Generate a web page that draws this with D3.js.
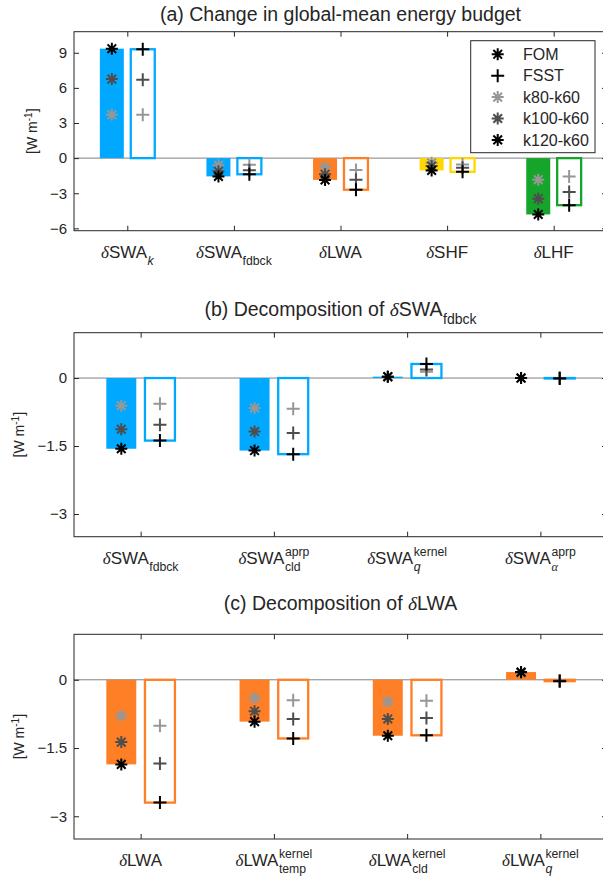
<!DOCTYPE html>
<html>
<head>
<meta charset="utf-8">
<script src="https://cdn.jsdelivr.net/npm/d3@7"></script>
<style>
  body { margin: 0; background: #fff; }
  text { font-family: "Liberation Sans", Arial, Helvetica, sans-serif; fill: #262626; }
</style>
</head>
<body>
<script>
// ---- data: (a) change in global-mean energy budget [W m-1]
var labelsA = [['SWA', 'k', ''], ['SWA', 'fdbck', ''], ['LWA', '', ''], ['SHF', '', ''], ['LHF', '', '']]
var fomA80 = [3.7, -0.61, -0.79, -0.40, -1.84]
var fomA100 = [6.75, -1.13, -1.37, -0.68, -3.46]
var fomA120 = [9.35, -1.56, -1.86, -1.05, -4.81]
var fsstA80 = [3.7, -0.57, -1.01, -0.54, -1.56]
var fsstA100 = [6.7, -1.03, -1.84, -0.82, -2.89]
var fsstA120 = [9.3, -1.38, -2.70, -1.17, -4.02]
var ticksA = [-6, -3, 0, 3, 6, 9]

// ---- (b) decomposition of dSWA_fdbck
var labelsB = [['SWA', 'fdbck', ''], ['SWA', 'cld', 'aprp'], ['SWA', 'q', 'kernel'], ['SWA', 'α', 'aprp']]
var fomB80 = [-0.61, -0.66, 0.03, 0]
var fomB100 = [-1.13, -1.18, 0.03, 0]
var fomB120 = [-1.56, -1.60, 0.03, 0]
var fsstB80 = [-0.57, -0.68, 0.14, 0]
var fsstB100 = [-1.03, -1.21, 0.19, 0]
var fsstB120 = [-1.38, -1.68, 0.31, -0.01]

// ---- (c) decomposition of dLWA
var labelsC = [['LWA', '', ''], ['LWA', 'temp', 'kernel'], ['LWA', 'cld', 'kernel'], ['LWA', 'q', 'kernel']]
var fomC80 = [-0.79, -0.40, -0.48, 0.15]
var fomC100 = [-1.37, -0.69, -0.86, 0.16]
var fomC120 = [-1.86, -0.92, -1.23, 0.17]
var fsstC80 = [-1.01, -0.45, -0.46, -0.02]
var fsstC100 = [-1.84, -0.86, -0.84, -0.02]
var fsstC120 = [-2.70, -1.29, -1.22, -0.03]
var ticksBC = [-3, -1.5, 0]

var legendNames = ['FOM', 'FSST', 'k80-k60', 'k100-k60', 'k120-k60']

var blue = '#00a9ff'
var orange = '#ff7f27'
var yellow = '#ffd800'
var green = '#14a52a'
var grey80 = '#979797'
var grey100 = '#4d4d4d'
var grey120 = '#000000'

var W = 603
var H = 883
var svg = d3.select('body').append('svg')
  .attr('width', W)
  .attr('height', H)

var left = 74
var right = 607

var panels = [
  {
    title: ['(a) Change in global-mean energy budget', '', '', ''],
    titleY: 21,
    labels: labelsA,
    fom: [fomA80, fomA100, fomA120],
    fsst: [fsstA80, fsstA100, fsstA120],
    colors: [blue, blue, orange, yellow, green],
    yDomain: [-6.2, 10.8],
    ticks: ticksA,
    top: 31.7,
    bottom: 230.7,
    ylabX: 37,
    legend: true
  },
  {
    title: ['(b) Decomposition of ', 'SWA', 'fdbck', ''],
    titleY: 316,
    labels: labelsB,
    fom: [fomB80, fomB100, fomB120],
    fsst: [fsstB80, fsstB100, fsstB120],
    colors: [blue, blue, blue, blue],
    yDomain: [-3.5, 1],
    ticks: ticksBC,
    top: 332.7,
    bottom: 536.7,
    ylabX: 24
  },
  {
    title: ['(c) Decomposition of ', 'LWA', '', ''],
    titleY: 610,
    labels: labelsC,
    fom: [fomC80, fomC100, fomC120],
    fsst: [fsstC80, fsstC100, fsstC120],
    colors: [orange, orange, orange, orange],
    yDomain: [-3.5, 1],
    ticks: ticksBC,
    top: 634.3,
    bottom: 839,
    ylabX: 24
  }
]

// asterisk (MATLAB '*') and plus marker paths
function asterisk (r) {
  var a = r * 0.72
  return 'M' + (-r) + ',0H' + r + 'M0,' + (-r) + 'V' + r +
    'M' + (-a) + ',' + (-a) + 'L' + a + ',' + a +
    'M' + (-a) + ',' + a + 'L' + a + ',' + (-a)
}
function plus (r) {
  return 'M' + (-r) + ',0H' + r + 'M0,' + (-r) + 'V' + r
}

// text like  pre + delta + base_sub^sup , centred at x
function richText (sel, x, y, pre, base, sub, sup, fs) {
  var g = sel.append('g')
  var t = g.append('text').style('font-size', fs + 'px')
  if (pre) t.append('tspan').text(pre)
  if (base) {
    t.append('tspan')
      .style('font-family', '"Liberation Serif", "DejaVu Serif", serif')
      .style('font-style', 'italic')
      .text('δ')
    t.append('tspan').text(base)
  }
  var w = t.node().getComputedTextLength()
  var extra = 0
  var sfs = fs * 0.72
  if (sub) {
    var s = g.append('text')
      .attr('x', w + 0.5)
      .attr('y', fs * 0.4)
      .style('font-size', sfs + 'px')
      .text(sub)
    if (sub.length === 1) s.style('font-style', 'italic')
    if (sub === 'α') s.style('font-family', '"Liberation Serif", serif')
    extra = Math.max(extra, s.node().getComputedTextLength() + 0.5)
  }
  if (sup) {
    var p = g.append('text')
      .attr('x', w + 0.5)
      .attr('y', -fs * 0.45)
      .style('font-size', sfs + 'px')
      .text(sup)
    extra = Math.max(extra, p.node().getComputedTextLength() + 0.5)
  }
  g.attr('transform', 'translate(' + (x - (w + extra) / 2) + ',' + y + ')')
  return g
}

panels.forEach(function (P) {
  var n = P.labels.length
  var x = d3.scaleLinear().domain([0.5, n + 0.5]).range([left, right])
  var y = d3.scaleLinear().domain(P.yDomain).range([P.bottom, P.top])
  var unit = x(2) - x(1)
  var bw = 0.225 * unit
  var off = 0.145 * unit
  var g = svg.append('g')

  // zero line
  g.append('line')
    .attr('x1', left).attr('x2', right)
    .attr('y1', y(0)).attr('y2', y(0))
    .attr('stroke', '#808080').attr('stroke-width', 1)

  // bars: FOM filled, FSST outlined (height = k120-k60)
  var idx = d3.range(n)
  g.selectAll('rect.fom').data(idx).enter().append('rect')
    .attr('class', 'fom')
    .attr('x', function (i) { return x(i + 1) - off - bw / 2 })
    .attr('width', bw)
    .attr('y', function (i) { return y(Math.max(0, P.fom[2][i])) })
    .attr('height', function (i) { return Math.abs(y(P.fom[2][i]) - y(0)) })
    .attr('fill', function (i) { return P.colors[i] })
  g.selectAll('rect.fsst').data(idx).enter().append('rect')
    .attr('class', 'fsst')
    .attr('x', function (i) { return x(i + 1) + off - bw / 2 })
    .attr('width', bw)
    .attr('y', function (i) { return y(Math.max(0, P.fsst[2][i])) })
    .attr('height', function (i) { return Math.abs(y(P.fsst[2][i]) - y(0)) })
    .attr('fill', 'none')
    .attr('stroke', function (i) { return P.colors[i] })
    .attr('stroke-width', 2.3)

  // markers
  var greys = [grey80, grey100, grey120]
  P.fom.forEach(function (arr, k) {
    g.selectAll(null).data(arr).enter().append('path')
      .attr('d', asterisk(6))
      .attr('transform', function (v, i) { return 'translate(' + (x(i + 1) - off) + ',' + y(v) + ')' })
      .attr('stroke', greys[k]).attr('stroke-width', 2).attr('fill', 'none')
  })
  P.fsst.forEach(function (arr, k) {
    g.selectAll(null).data(arr).enter().append('path')
      .attr('d', plus(6.5))
      .attr('transform', function (v, i) { return 'translate(' + (x(i + 1) + off) + ',' + y(v) + ')' })
      .attr('stroke', greys[k]).attr('stroke-width', 2).attr('fill', 'none')
  })

  // axes: ticks inside on all four sides
  var ax = g.append('g').attr('transform', 'translate(' + left + ',0)')
    .call(d3.axisLeft(y).tickValues(P.ticks).tickSizeInner(-5).tickSizeOuter(0).tickPadding(7).tickFormat(d3.format('')))
  ax.selectAll('text').style('font-size', '15px').attr('fill', '#262626')
  g.append('g').attr('transform', 'translate(' + right + ',0)')
    .call(d3.axisRight(y).tickValues(P.ticks).tickSizeInner(-5).tickSizeOuter(0).tickFormat(''))
  g.append('g').attr('transform', 'translate(0,' + P.bottom + ')')
    .call(d3.axisBottom(x).tickValues(d3.range(1, n + 1)).tickSizeInner(-5).tickSizeOuter(0).tickFormat(''))
  g.append('g').attr('transform', 'translate(0,' + P.top + ')')
    .call(d3.axisTop(x).tickValues(d3.range(1, n + 1)).tickSizeInner(-5).tickSizeOuter(0).tickFormat(''))
  g.selectAll('.domain').remove()
  g.selectAll('.tick line').attr('stroke', '#262626')

  g.append('rect')
    .attr('x', left).attr('y', P.top)
    .attr('width', right - left).attr('height', P.bottom - P.top)
    .attr('fill', 'none').attr('stroke', '#262626').attr('stroke-width', 1)

  // category labels
  P.labels.forEach(function (l, i) {
    richText(g, x(i + 1), P.bottom + 27, '', l[0], l[1], l[2], 17)
  })

  // y label
  var yl = g.append('text')
    .attr('transform', 'translate(' + P.ylabX + ',' + ((P.top + P.bottom) / 2) + ') rotate(-90)')
    .attr('text-anchor', 'middle')
    .style('font-size', '14px')
  yl.append('tspan').text('[W m')
  yl.append('tspan').attr('dy', -5).style('font-size', '10px').text('-1')
  yl.append('tspan').attr('dy', 5).text(']')

  // title
  richText(g, (left + right) / 2, P.titleY, P.title[0], P.title[1], P.title[2], P.title[3], 19.5)
    .selectAll('text').attr('fill', '#111')

  // legend
  if (P.legend) {
    var lg = g.append('g')
    lg.append('rect')
      .attr('x', 470.7).attr('y', 40.7).attr('width', 124.3).attr('height', 112)
      .attr('fill', '#fff').attr('stroke', '#262626').attr('stroke-width', 1)
    var lcol = [grey120, grey120, grey80, grey100, grey120]
    legendNames.forEach(function (name, i) {
      var ly = 54.3 + i * 21.4
      lg.append('path')
        .attr('d', i === 1 ? plus(6.5) : asterisk(6))
        .attr('transform', 'translate(497.7,' + ly + ')')
        .attr('stroke', lcol[i]).attr('stroke-width', 2).attr('fill', 'none')
      lg.append('text')
        .attr('x', 523).attr('y', ly).attr('dy', '0.35em')
        .style('font-size', '16px')
        .text(name)
    })
  }
})
</script>
</body>
</html>
